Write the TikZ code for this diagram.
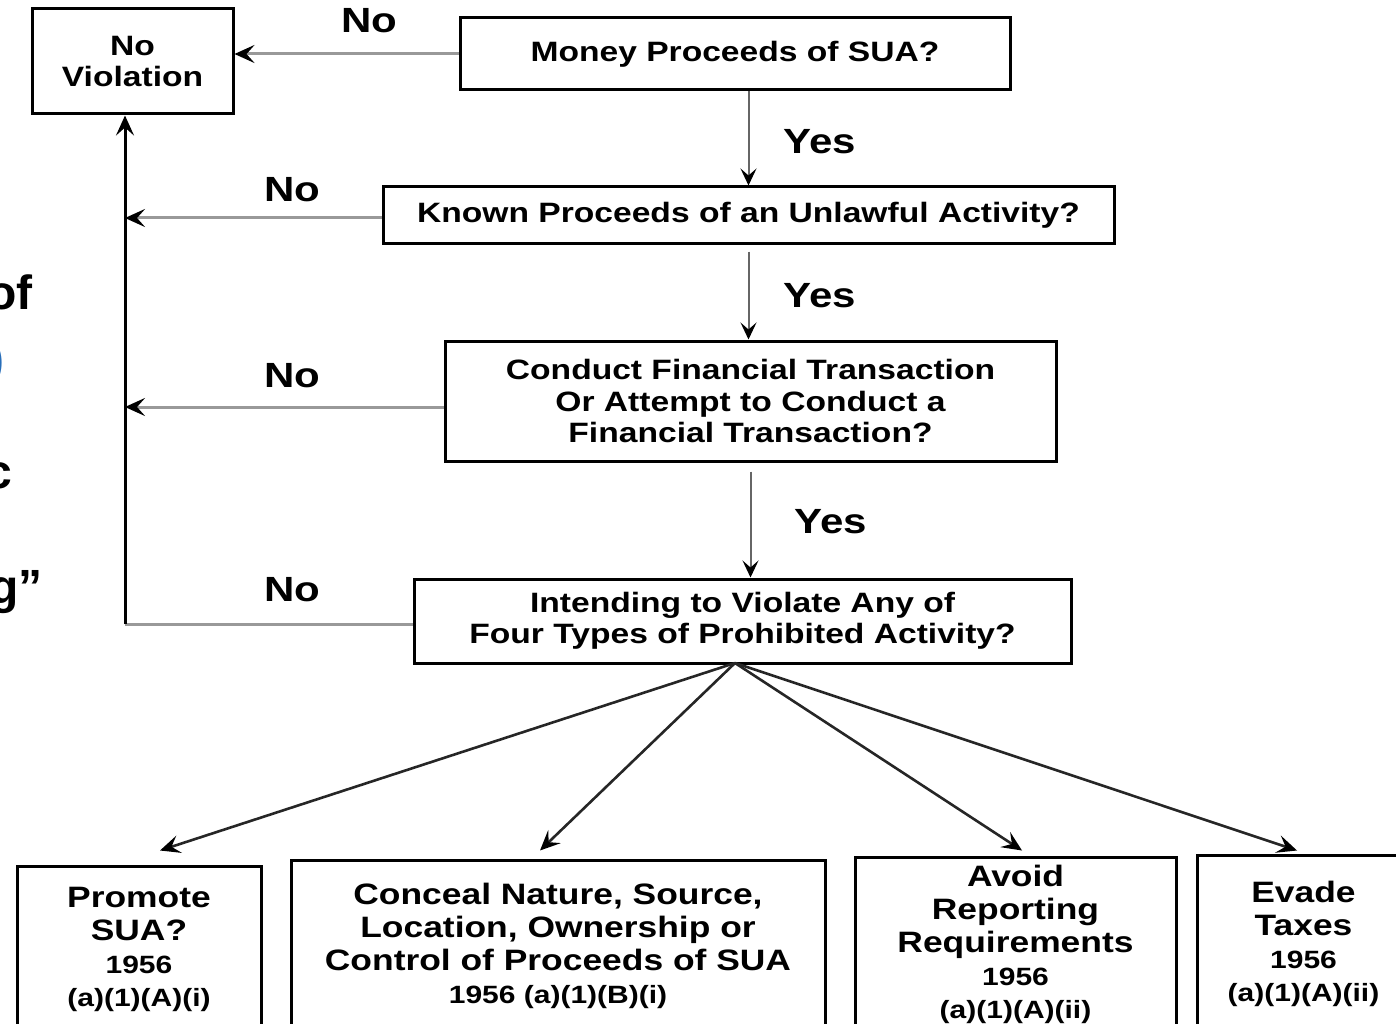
\documentclass[tikz,border=0pt]{standalone}
\usepackage{fontspec}
\setmainfont{Liberation Sans}[FakeStretch=1.2]
\newfontfamily\fragfont{Liberation Sans}
\usetikzlibrary{arrows.meta,calc}
\newcommand{\smtxt}{\fontsize{25}{29}\selectfont}
\begin{document}
\begin{tikzpicture}[x=1pt,y=-1pt,
  box/.style={draw=black,line width=3pt,inner sep=0pt,align=center,
    font=\bfseries\fontsize{28}{31.5}\selectfont},
  bbox/.style={draw=black,line width=3pt,inner sep=0pt,align=center,
    font=\bfseries\fontsize{29.5}{33}\selectfont},
  lbl/.style={inner sep=0pt,font=\bfseries\fontsize{35}{35}\selectfont},
  frag/.style={inner sep=0pt,anchor=base east,font=\fragfont\bfseries\fontsize{48}{48}\selectfont},
  nolink/.style={draw=black!40,line width=3pt,
    -{Stealth[length=20pt,width=18pt,inset=8pt,black]}},
  uplink/.style={draw=black,line width=3pt,
    -{Stealth[length=20pt,width=18pt,inset=8pt,black]}},
  yeslink/.style={draw=black!60,line width=2pt,
    -{Stealth[length=17pt,width=16pt,inset=7pt,black]}},
  fanlink/.style={draw=black!85,line width=2.6pt,
    -{Stealth[length=20pt,width=18pt,inset=8pt,black]}}
]
\useasboundingbox (0,0) rectangle (1396,1024);

% cut-off slide text at left edge
\node[frag] (f1) at (33,309) {of};
\node[frag,text={rgb,255:red,40;green,110;blue,185}] (f2) at (5,375) {)};
\node[frag] (f3) at (12,488) {c};
\node[frag] (f4) at (43,603) {g”};

% boxes
\node[box,minimum width=201pt,minimum height=105pt] (nov) at (132.5,61.5) {No\\Violation};
\node[box,minimum width=550pt,minimum height=72pt] (money) at (735,54) {Money Proceeds of SUA?};
\node[box,minimum width=731pt,minimum height=57pt] (known) at (748.5,215.5) {Known Proceeds of an Unlawful Activity?};
\node[box,minimum width=611pt,minimum height=120pt] (cond) at (750.5,401) {Conduct Financial Transaction\\Or Attempt to Conduct a\\Financial Transaction?};
\node[box,minimum width=657pt,minimum height=84pt] (intd) at (742.5,621) {Intending to Violate Any of\\Four Types of Prohibited Activity?};

\node[bbox,minimum width=244pt,minimum height=166pt] (prom) at (139,949) {Promote\\SUA?\\\smtxt 1956\\\smtxt (a)(1)(A)(i)};
\node[bbox,minimum width=534pt,minimum height=172pt] (conc) at (558,946) {Conceal Nature, Source,\\Location, Ownership or\\Control of Proceeds of SUA\\\smtxt 1956 (a)(1)(B)(i)};
\node[bbox,minimum width=321pt,minimum height=175pt] (avoid) at (1015.5,944.5) {Avoid\\Reporting\\Requirements\\\smtxt 1956\\\smtxt (a)(1)(A)(ii)};
\node[bbox,minimum width=213pt,minimum height=177pt] (evade) at (1303.5,943.5) {Evade\\Taxes\\\smtxt 1956\\\smtxt (a)(1)(A)(ii)};

% labels
\node[lbl] (no1) at (369,21) {No};
\node[lbl] (no2) at (292,190) {No};
\node[lbl] (no3) at (292,376) {No};
\node[lbl] (no4) at (292,590) {No};
\node[lbl] (yes1) at (820,142) {Yes};
\node[lbl] (yes2) at (820,296) {Yes};
\node[lbl] (yes3) at (831,522) {Yes};

% "No" connectors
\coordinate (vbot) at (125,624);
\draw[nolink] (money.west) -- (nov.east |- money.west);
\draw[nolink] (known.west |- 0,218) -- (vbot |- 0,218);
\draw[nolink] (cond.west |- 0,407) -- (vbot |- 0,407);
\draw[draw=black!40,line width=3pt] (intd.west |- vbot) -- (vbot);
\draw[uplink] (vbot) -- (vbot |- nov.south);

% "Yes" connectors
\draw[yeslink] (money.south -| known.north) -- (known.north);
\draw[yeslink] ($(known.south)+(0,6)$) -- (known.south |- cond.north);
\draw[yeslink] ($(cond.south)+(0,9)$) -- (cond.south |- intd.north);

% fan connectors
\coordinate (fan) at (735,663);
\draw[fanlink] (fan) -- ($(prom.north)+(21,-14)$);
\draw[fanlink] (fan) -- ($(conc.north)+(-18,-8)$);
\draw[fanlink] (fan) -- ($(avoid.north)+(6.5,-5)$);
\draw[fanlink] (fan) -- ($(evade.north)+(-6.5,-3)$);
\end{tikzpicture}
\end{document}
